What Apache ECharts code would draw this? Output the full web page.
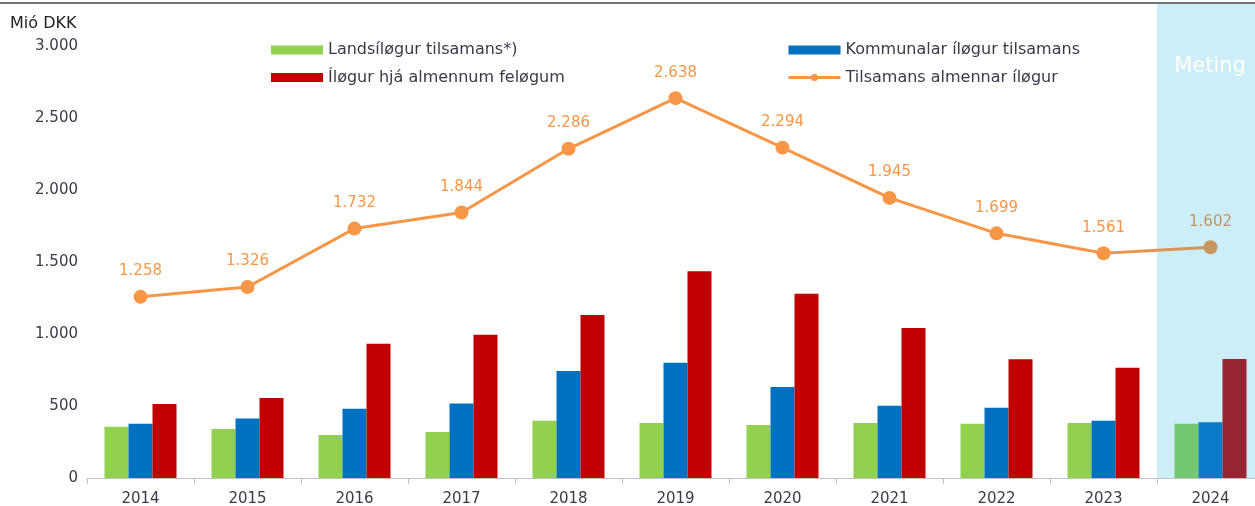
<!DOCTYPE html>
<html>
<head>
<meta charset="utf-8">
<script src="https://cdn.jsdelivr.net/npm/echarts@6/dist/echarts.min.js"></script>
<style>
  html, body { margin: 0; padding: 0; background: #fff; }
  #chart { width: 1255px; height: 506px; }
</style>
</head>
<body>
<div id="chart"></div>
<script>
// Years on the category axis
const years = ['2014', '2015', '2016', '2017', '2018', '2019', '2020', '2021', '2022', '2023', '2024'];

// Income components, million DKK
const landsilogur = [356, 340, 299, 319, 398, 382, 368, 382, 377, 382, 377];
const kommunalar = [377, 414, 481, 518, 743, 801, 632, 502, 488, 398, 387];
const almennum = [514, 556, 933, 995, 1132, 1435, 1280, 1042, 824, 766, 826];

// Total general revenue, million DKK
const tilsamans = [1258, 1326, 1732, 1844, 2286, 2638, 2294, 1945, 1699, 1561, 1602];

// Y-axis tick settings
const yMin = 0, yMax = 3000, yStep = 500;

const seriesNames = [
  'Landsíløgur tilsamans*)',
  'Kommunalar íløgur tilsamans',
  'Íløgur hjá almennum feløgum',
  'Tilsamans almennar íløgur'
];

const FONT = 'DejaVu Sans';
const TEXT = '#3a3a48';
const ORANGE = '#F79646';
const ESTIMATE_YEAR = '2024';

function fmt(v) {
  return String(v).replace(/\B(?=(\d{3})+(?!\d))/g, '.');
}

// Bars in the estimate year get their own shade
function barData(values, baseColor, estColor) {
  return values.map((v, i) => years[i] === ESTIMATE_YEAR
    ? { value: v, itemStyle: { color: estColor } }
    : { value: v, itemStyle: { color: baseColor } });
}

const lineData = tilsamans.map((v, i) => years[i] === ESTIMATE_YEAR
  ? { value: v, itemStyle: { color: '#C8955F' }, label: { color: '#C39462' } }
  : v);

const legendText = { fontFamily: FONT, fontSize: 16, color: TEXT, lineHeight: 18 };

const chart = echarts.init(document.getElementById('chart'), null, { renderer: 'canvas' });

const option = {
  animation: false,
  textStyle: { fontFamily: FONT },
  title: {
    text: 'Mió DKK',
    left: 5,
    top: 11,
    textStyle: { fontFamily: FONT, fontSize: 16, fontWeight: 'normal', color: '#222' }
  },
  legend: [
    {
      data: [
        { name: seriesNames[0], icon: 'rect' },
        { name: seriesNames[2], icon: 'rect' }
      ],
      orient: 'vertical',
      left: 271,
      top: 41,
      padding: 0,
      itemWidth: 52,
      itemHeight: 9,
      itemGap: 9.5,
      selectedMode: false,
      textStyle: legendText
    },
    {
      data: [
        { name: seriesNames[1], icon: 'rect' },
        { name: seriesNames[3], lineStyle: { width: 3 } }
      ],
      orient: 'vertical',
      left: 787,
      top: 41,
      padding: 0,
      itemWidth: 52,
      itemHeight: 9,
      itemGap: 9.5,
      selectedMode: false,
      textStyle: legendText
    }
  ],
  grid: {
    left: 87,
    top: 46,
    bottom: 28,
    width: 1177,
    outerBoundsMode: 'none',
    containLabel: false
  },
  xAxis: {
    type: 'category',
    data: years,
    boundaryGap: true,
    axisLine: { show: true, lineStyle: { color: '#BFBFBF', width: 1 } },
    axisTick: { show: true, alignWithLabel: false, length: 6, lineStyle: { color: '#BFBFBF' } },
    axisLabel: { fontFamily: FONT, fontSize: 15, color: TEXT, margin: 14 },
    splitLine: { show: false }
  },
  yAxis: {
    type: 'value',
    min: yMin,
    max: yMax,
    interval: yStep,
    axisLine: { show: false },
    axisTick: { show: false },
    splitLine: { show: false },
    axisLabel: {
      fontFamily: FONT, fontSize: 15, color: TEXT, margin: 9,
      formatter: v => fmt(v)
    }
  },
  series: [
    {
      name: seriesNames[0],
      type: 'bar',
      data: barData(landsilogur, '#92D050', '#74C872'),
      barWidth: 24,
      barGap: '0%',
      itemStyle: { color: '#92D050' },
      z: 3
    },
    {
      name: seriesNames[1],
      type: 'bar',
      data: barData(kommunalar, '#0070C0', '#0A7ACB'),
      barWidth: 24,
      barGap: '0%',
      itemStyle: { color: '#0070C0' },
      z: 3
    },
    {
      name: seriesNames[2],
      type: 'bar',
      data: barData(almennum, '#C00000', '#982331'),
      barWidth: 24,
      barGap: '0%',
      itemStyle: { color: '#C00000' },
      z: 3
    },
    {
      name: seriesNames[3],
      type: 'line',
      data: lineData,
      symbol: 'circle',
      symbolSize: 14,
      z: 4,
      itemStyle: { color: ORANGE },
      lineStyle: {
        width: 3,
        color: {
          type: 'linear', x: 0, y: 0, x2: 1, y2: 0,
          colorStops: [
            { offset: 0, color: ORANGE },
            { offset: 0.9, color: ORANGE },
            { offset: 1, color: '#C8955F' }
          ]
        }
      },
      label: {
        show: true,
        position: 'top',
        distance: 11,
        fontFamily: FONT,
        fontSize: 15,
        color: ORANGE,
        formatter: p => fmt(p.value)
      }
    }
  ]
};

chart.setOption(option);

// Shaded band over the estimate year, placed from the axis scales
const cx = chart.convertToPixel({ xAxisIndex: 0 }, ESTIMATE_YEAR);
const bandW = chart.convertToPixel({ xAxisIndex: 0 }, years[1]) - chart.convertToPixel({ xAxisIndex: 0 }, years[0]);
const x0 = cx - bandW / 2;
const yBottom = chart.convertToPixel({ yAxisIndex: 0 }, 0);
const W = chart.getWidth();

chart.setOption({
  graphic: [
    {
      type: 'rect',
      z: 0,
      silent: true,
      shape: { x: x0, y: 4, width: W - x0, height: yBottom - 4 },
      style: { fill: '#CCEEF9' }
    },
    {
      type: 'text',
      z: 1,
      silent: true,
      x: (x0 + W) / 2 + 4,
      y: 67,
      style: {
        text: 'Meting',
        fill: '#ffffff',
        font: '21px "DejaVu Sans"',
        textAlign: 'center',
        textVerticalAlign: 'middle'
      }
    },
    {
      type: 'line',
      z: 5,
      silent: true,
      shape: { x1: 0, y1: 3, x2: W, y2: 3 },
      style: { stroke: '#444', lineWidth: 1.5 }
    }
  ]
});
</script>
</body>
</html>
